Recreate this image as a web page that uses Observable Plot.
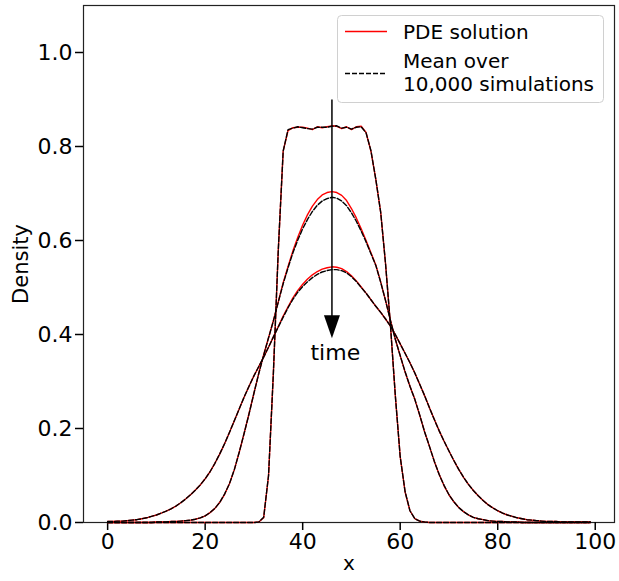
<!DOCTYPE html>
<html><head><meta charset="utf-8">
<script src="https://cdn.jsdelivr.net/npm/d3@7"></script>
<script src="https://cdn.jsdelivr.net/npm/@observablehq/plot@0.6"></script>
<style>body{margin:0;background:#fff} svg{display:block}</style>
</head><body><div id="chart"></div>
<script>
// x grid
const xs = [0,1,2,3,4,5,6,7,8,9,10,11,12,13,14,15,16,17,18,19,20,21,22,23,24,25,26,27,28,29,30,31,32,33,34,35,36,37,38,39,40,41,42,43,44,45,46,47,48,49,50,51,52,53,54,55,56,57,58,59,60,61,62,63,64,65,66,67,68,69,70,71,72,73,74,75,76,77,78,79,80,81,82,83,84,85,86,87,88,89,90,91,92,93,94,95,96,97,98,99];

// PDE solution at three times
const pde1 = [0,0,0,0,0,0,0,0,0,0, 0,0,0,0,0,0,0,0,0,0, 0,0,0,0,0,0,0,0,0,0, 0,0.001,0.01,0.1,0.32,0.58,0.79,0.834,0.840,0.841, 0.841,0.839,0.836,0.842,0.840,0.842,0.844,0.843,0.838,0.842, 0.836,0.842,0.843,0.83,0.79,0.73,0.66,0.55,0.42,0.27, 0.14,0.065,0.025,0.008,0.003,0.001,0,0,0,0, 0,0,0,0,0,0,0,0,0,0, 0,0,0,0,0,0,0,0,0,0, 0,0,0,0,0,0,0,0,0,0];
const pde2 = [0,0,0,0,0,0,0,0,0,0, 0.001,0.001,0.001,0.002,0.002,0.003,0.004,0.005,0.007,0.01, 0.014,0.021,0.03,0.043,0.06,0.083,0.113,0.15,0.19,0.232, 0.275,0.318,0.357,0.393,0.43,0.47,0.51,0.545,0.578,0.607, 0.633,0.655,0.673,0.687,0.697,0.702,0.704,0.702,0.696,0.685, 0.668,0.648,0.625,0.6,0.574,0.548,0.512,0.472,0.43,0.39, 0.355,0.32,0.29,0.262,0.228,0.193,0.162,0.13,0.102,0.078, 0.059,0.044,0.032,0.023,0.016,0.011,0.008,0.006,0.004,0.003, 0.002,0.002,0.001,0.001,0.001,0,0,0,0,0, 0,0,0,0,0,0,0,0,0,0];
const pde3 = [0.002,0.002,0.003,0.003,0.004,0.005,0.006,0.008,0.01,0.013, 0.016,0.02,0.024,0.029,0.035,0.042,0.05,0.059,0.069,0.08, 0.093,0.108,0.126,0.146,0.168,0.192,0.217,0.242,0.267,0.29, 0.312,0.332,0.352,0.373,0.395,0.417,0.439,0.459,0.478,0.494, 0.507,0.518,0.527,0.534,0.539,0.542,0.544,0.543,0.54,0.534, 0.525,0.514,0.501,0.488,0.474,0.46,0.447,0.433,0.418,0.4, 0.38,0.36,0.34,0.318,0.294,0.27,0.244,0.219,0.195,0.173, 0.152,0.132,0.113,0.096,0.081,0.068,0.057,0.047,0.038,0.031, 0.025,0.02,0.016,0.013,0.01,0.008,0.006,0.005,0.004,0.003, 0.002,0.002,0.002,0.001,0.001,0.001,0.001,0.001,0.001,0.001];

// Mean over 10,000 simulations
const mean1 = [0,0,0,0,0,0,0,0,0,0, 0,0,0,0,0,0,0,0,0,0, 0,0,0,0,0,0,0,0,0,0, 0,0.001,0.011,0.1,0.32,0.58,0.79,0.836,0.839,0.842, 0.840,0.838,0.837,0.841,0.841,0.841,0.843,0.844,0.839,0.841, 0.837,0.841,0.842,0.829,0.791,0.73,0.66,0.55,0.42,0.27, 0.14,0.066,0.025,0.008,0.003,0.001,0,0,0,0, 0,0,0,0,0,0,0,0,0,0, 0,0,0,0,0,0,0,0,0,0, 0,0,0,0,0,0,0,0,0,0];
const mean2 = [0,0,0,0,0,0,0,0,0,0, 0.001,0.001,0.001,0.002,0.002,0.003,0.004,0.005,0.007,0.01, 0.014,0.021,0.03,0.043,0.061,0.083,0.113,0.15,0.19,0.231, 0.275,0.317,0.356,0.393,0.429,0.469,0.508,0.542,0.574,0.601, 0.625,0.645,0.662,0.675,0.684,0.689,0.692,0.69,0.684,0.674, 0.659,0.641,0.62,0.597,0.572,0.547,0.511,0.472,0.43,0.39, 0.355,0.321,0.29,0.262,0.229,0.193,0.162,0.13,0.102,0.079, 0.059,0.044,0.032,0.023,0.016,0.011,0.008,0.006,0.004,0.003, 0.002,0.002,0.001,0.001,0.001,0,0,0,0,0, 0,0,0,0,0,0,0,0,0,0];
const mean3 = [0.002,0.002,0.003,0.003,0.004,0.005,0.006,0.008,0.01,0.013, 0.016,0.02,0.024,0.029,0.035,0.042,0.05,0.059,0.069,0.08, 0.093,0.108,0.126,0.146,0.168,0.192,0.217,0.242,0.267,0.29, 0.312,0.332,0.352,0.373,0.395,0.416,0.437,0.457,0.475,0.49, 0.502,0.512,0.521,0.528,0.533,0.536,0.538,0.538,0.536,0.531, 0.523,0.513,0.5,0.488,0.474,0.46,0.447,0.433,0.418,0.4, 0.38,0.36,0.34,0.318,0.294,0.27,0.244,0.219,0.195,0.173, 0.152,0.132,0.113,0.096,0.081,0.068,0.057,0.047,0.038,0.031, 0.025,0.02,0.016,0.013,0.01,0.008,0.006,0.005,0.004,0.003, 0.002,0.002,0.002,0.001,0.001,0.001,0.001,0.001,0.001,0.001];

const pdeSeries = [pde1, pde2, pde3];
const meanSeries = [mean1, mean2, mean3];

// Axis ticks and labels
const xTicks = [0, 20, 40, 60, 80, 100];
const yTicks = [0, 0.2, 0.4, 0.6, 0.8, 1.0];
const xLabel = "x";
const yLabel = "Density";

// Annotation
const arrowX = 46;
const arrowTop = 0.9;
const arrowShaftEnd = 0.43;
const arrowTip = 0.392;
const timeLabel = "time";
const timeX = 46.7;
const timeY = 0.36;

// Legend
const legendLabels = ["PDE solution", "Mean over", "10,000 simulations"];

const headSymbol = {
  draw(ctx) { ctx.moveTo(0, 0); ctx.lineTo(-8, -23); ctx.lineTo(8, -23); ctx.closePath(); }
};

const marks = [
  Plot.frame({stroke: "#222", strokeWidth: 1.2}),
  Plot.axisX(xTicks, {tickSize: 8, tickPadding: 3, strokeWidth: 1.5, label: null}),
  Plot.axisY(yTicks, {tickSize: 8, tickPadding: 3, strokeWidth: 1.5, tickFormat: ".1f", label: null}),
];
for (const s of pdeSeries) marks.push(Plot.lineY(s, {x: xs, stroke: "red", strokeWidth: 1.4}));
for (const s of meanSeries) marks.push(Plot.lineY(s, {x: xs, stroke: "black", strokeWidth: 1.4, strokeDasharray: "5,2"}));
marks.push(
  Plot.link([{x: arrowX, y1: arrowTop, y2: arrowShaftEnd}], {x1: "x", x2: "x", y1: "y1", y2: "y2", stroke: "black", strokeWidth: 1.5}),
  Plot.dot([{x: arrowX, y: arrowTip}], {x: "x", y: "y", symbol: headSymbol, fill: "black", stroke: "none"}),
  Plot.text([timeLabel], {x: timeX, y: timeY, text: d => d, fontSize: 22, lineAnchor: "middle", textAnchor: "middle"}),
  Plot.text([xLabel], {frameAnchor: "bottom", dy: 47, text: d => d, fontSize: 20, textAnchor: "middle"}),
  Plot.text([yLabel], {frameAnchor: "left", dx: -62, rotate: -90, text: d => d, fontSize: 21, textAnchor: "middle"})
);

const chart = Plot.plot({
  width: 619, height: 581,
  marginTop: 5, marginRight: 5, marginBottom: 59, marginLeft: 83,
  style: {fontFamily: "DejaVu Sans", fontSize: "22px", color: "black", background: "white", overflow: "visible"},
  x: {domain: [-4.95, 103.95]},
  y: {domain: [0, 1.1]},
  marks
});
document.getElementById("chart").appendChild(chart);

// Legend box (upper right)
const svg = d3.select(chart);
const lg = svg.append("g").attr("font-family", "DejaVu Sans").attr("font-size", 20).attr("fill", "black").attr("text-anchor", "start");
lg.append("rect").attr("x", 337.5).attr("y", 15.5).attr("width", 266).attr("height", 87).attr("rx", 4)
  .attr("fill", "white").attr("fill-opacity", 0.8).attr("stroke", "#d0d0d0");
lg.append("line").attr("x1", 345).attr("x2", 387).attr("y1", 31.5).attr("y2", 31.5).attr("stroke", "red").attr("stroke-width", 1.4);
lg.append("line").attr("x1", 345).attr("x2", 387).attr("y1", 73.5).attr("y2", 73.5).attr("stroke", "black").attr("stroke-width", 1.4).attr("stroke-dasharray", "5,2");
lg.append("text").attr("x", 403).attr("y", 39).text(legendLabels[0]);
lg.append("text").attr("x", 403).attr("y", 68).text(legendLabels[1]);
lg.append("text").attr("x", 403).attr("y", 91).text(legendLabels[2]);
</script>
</body></html>
